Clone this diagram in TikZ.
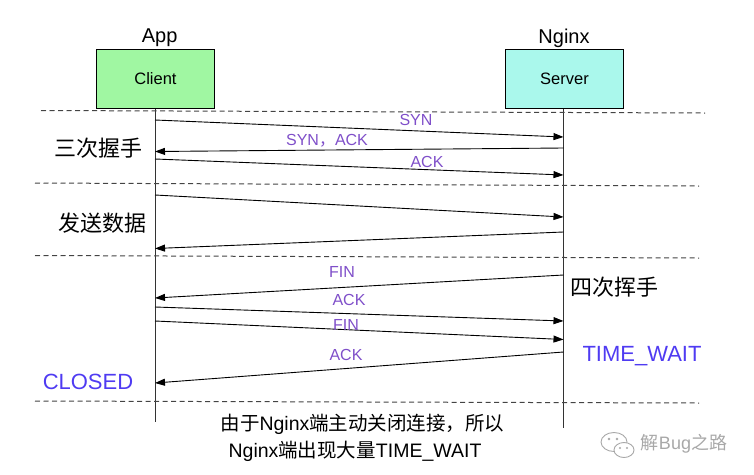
\documentclass[tikz,border=0pt]{standalone}
\usepackage{fontspec}
\setmainfont{Liberation Sans}
\newfontfamily\cjk{Noto Sans CJK SC}
\usetikzlibrary{arrows.meta}
\definecolor{lblpurple}{HTML}{7F4FC9}
\definecolor{stateblue}{HTML}{4F3BF2}
\definecolor{clientgreen}{HTML}{A0F7A2}
\definecolor{servercyan}{HTML}{AAF8EC}
\definecolor{linegray}{HTML}{333333}
\definecolor{sepgray}{HTML}{444444}
\definecolor{wmgray}{HTML}{A8A8A8}
\begin{document}
\begin{tikzpicture}[x=1pt,y=-1pt,
  box/.style={draw=black, line width=1pt, minimum width=117.5pt, minimum height=59pt, inner sep=0pt, font=\fontsize{16.5}{18}\selectfont},
  title/.style={inner sep=0pt, anchor=base, font=\fontsize{20}{22}\selectfont},
  life/.style={draw=linegray, line width=1pt},
  msg/.style={draw=black, line width=0.9pt, -{Triangle[length=10pt,width=7pt]}},
  sep/.style={draw=sepgray, line width=1pt, dash pattern=on 5pt off 3.5pt},
  lbl/.style={inner sep=0pt, text=lblpurple, font=\fontsize{16}{18}\selectfont},
  phase/.style={inner sep=0pt, font=\fontsize{22}{24}\selectfont\cjk},
  state/.style={inner sep=0pt, text=stateblue, font=\fontsize{22}{24}\selectfont},
  note/.style={inner sep=0pt, font=\fontsize{19.5}{22}\selectfont},
  wm/.style={draw=wmgray, line width=0.9pt}
]
\useasboundingbox (0,0) rectangle (754,474);

% participants
\node[box, fill=clientgreen] (client) at (155.5,78.8) {Client};
\node[box, fill=servercyan] (server) at (564.5,78.8) {Server};
\node[title] (app) at (159.7,42) {App};
\node[title] (nginx) at (564,43.5) {Nginx};

% lifelines
\coordinate (cend) at (155,422);
\coordinate (send) at (563.5,428);
\draw[life] (client.south -| cend) -- (cend);
\draw[life] (server.south -| send) -- (send);

% separators
\coordinate (d1a) at (41,110.5);  \coordinate (d1b) at (705,113);
\coordinate (d2a) at (35,183);    \coordinate (d2b) at (699,186);
\coordinate (d3a) at (35,255.5);  \coordinate (d3b) at (699,258);
\coordinate (d4a) at (35,401);    \coordinate (d4b) at (699,403);
\draw[sep] (d1a) -- (d1b);
\draw[sep] (d2a) -- (d2b);
\draw[sep] (d3a) -- (d3b);
\draw[sep] (d4a) -- (d4b);

% message end points
\coordinate (c1) at (155,120);   \coordinate (s1) at (563.5,137);
\coordinate (s2) at (563.5,148); \coordinate (c2) at (155,151.5);
\coordinate (c3) at (155,159);   \coordinate (s3) at (563.5,175);
\coordinate (c4) at (155,195);   \coordinate (s4) at (563.5,217);
\coordinate (s5) at (563.5,232); \coordinate (c5) at (155,248.5);
\coordinate (s6) at (563.5,275); \coordinate (c6) at (155,298);
\coordinate (c7) at (155,307);   \coordinate (s7) at (563.5,321);
\coordinate (c8) at (155,321);   \coordinate (s8) at (563.5,339.5);
\coordinate (s9) at (563.5,352); \coordinate (c9) at (155,383);

\draw[msg] (c1) -- (s1);
\draw[msg] (s2) -- (c2);
\draw[msg] (c3) -- (s3);
\draw[msg] (c4) -- (s4);
\draw[msg] (s5) -- (c5);
\draw[msg] (s6) -- (c6);
\draw[msg] (c7) -- (s7);
\draw[msg] (c8) -- (s8);
\draw[msg] (s9) -- (c9);

% message labels
\node[lbl] (l1) at (416,119.5) {SYN};
\node[lbl] (l2) at (327,141) {SYN{\cjk ，}ACK};
\node[lbl] (l3) at (427,161.5) {ACK};
\node[lbl] (l6) at (342,272) {FIN};
\node[lbl] (l7) at (349,300) {ACK};
\node[lbl] (l8) at (346,324.5) {FIN};
\node[lbl] (l9) at (346,354.5) {ACK};

% phase labels
\node[phase] (p1) at (98,148) {三次握手};
\node[phase] (p2) at (102,223) {发送数据};
\node[phase] (p3) at (614,287) {四次挥手};
\node[state] (closed) at (88,381.5) {CLOSED};
\node[state] (tw) at (642,356) {TIME\_WAIT};

% bottom note
\node[note] (n1) at (362.5,424) {{\cjk 由于}Nginx{\cjk 端主动关闭连接，所以}};
\node[note] (n2) at (355,451) {Nginx{\cjk 端出现大量}TIME\_WAIT};

% watermark
\draw[wm, fill=white] (614,442) ellipse (13 and 9.5);
\draw[wm, fill=white] (624,450) ellipse (10 and 7.5);
\fill[wmgray] (609,439) circle (1.3); \fill[wmgray] (617,439) circle (1.3);
\fill[wmgray] (620,448) circle (1.1); \fill[wmgray] (627,448) circle (1.1);
\node[inner sep=0pt, text=wmgray, font=\fontsize{18}{20}\selectfont] (wmtext) at (684,444) {{\cjk 解}Bug{\cjk 之路}};
\end{tikzpicture}
\end{document}
